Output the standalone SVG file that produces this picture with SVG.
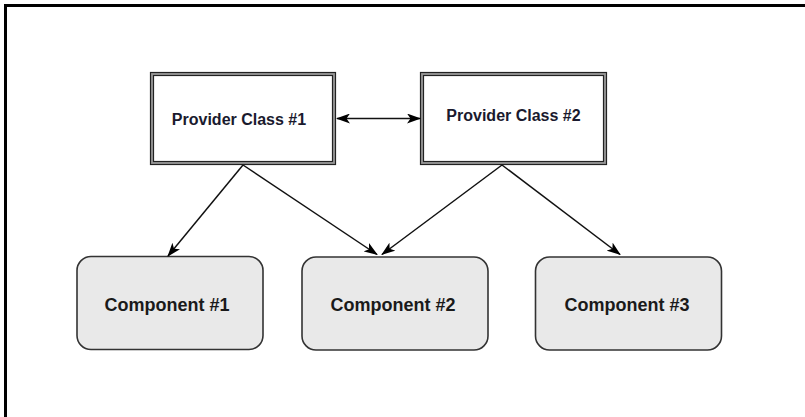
<svg xmlns="http://www.w3.org/2000/svg" width="805" height="417" viewBox="0 0 805 417">
  <style>
    .frame { stroke: #000; stroke-width: 3; fill: none; }
    .outer { fill: #9a9a9a; stroke: #222; stroke-width: 1.2; }
    .inner { fill: #fff; stroke: #222; stroke-width: 1.2; }
    .comp { fill: #e9e9e9; stroke: #333; stroke-width: 1.6; }
    .ptext { font-family: "Liberation Sans", Arial, sans-serif; font-weight: bold; font-size: 16px; fill: #1a1a2e; text-anchor: middle; }
    .ctext { font-family: "Liberation Sans", Arial, sans-serif; font-weight: bold; font-size: 18px; fill: #1a1a1a; text-anchor: middle; }
    .edge { stroke: #111; stroke-width: 1.5; fill: none; }
  </style>
  <defs>
    <marker id="arrow" viewBox="0 0 14 10" refX="13" refY="5" markerWidth="14" markerHeight="10" markerUnits="userSpaceOnUse" orient="auto-start-reverse">
      <path d="M0,0 L14,5 L0,10 L3.5,5 Z" fill="#000"/>
    </marker>
  </defs>
  <rect width="805" height="417" fill="#fff"/>
  <g id="frame">
    <path class="frame" d="M4,5.5 H805 M5.5,4 V417"/>
  </g>
  <g id="provider1">
    <rect class="outer" x="150.5" y="72.5" width="185" height="92"/>
    <rect class="inner" x="153.5" y="75.5" width="179" height="86"/>
    <text class="ptext" x="239" y="125">Provider Class #1</text>
  </g>
  <g id="provider2">
    <rect class="outer" x="420.5" y="72.5" width="186" height="92"/>
    <rect class="inner" x="423.5" y="75.5" width="180" height="86"/>
    <text class="ptext" x="513.5" y="120.5">Provider Class #2</text>
  </g>
  <g id="component1">
    <rect class="comp" x="77" y="256.5" width="186" height="93" rx="14" ry="14"/>
    <text class="ctext" x="167" y="310.5">Component #1</text>
  </g>
  <g id="component2">
    <rect class="comp" x="302" y="257" width="186" height="93" rx="14" ry="14"/>
    <text class="ctext" x="393" y="310.5">Component #2</text>
  </g>
  <g id="component3">
    <rect class="comp" x="535.5" y="257" width="186" height="93" rx="14" ry="14"/>
    <text class="ctext" x="627" y="310.5">Component #3</text>
  </g>
  <g id="connectors">
    <line class="edge" x1="337" y1="118.5" x2="420" y2="118.5" marker-start="url(#arrow)" marker-end="url(#arrow)"/>
    <line class="edge" x1="243" y1="165" x2="168" y2="256" marker-end="url(#arrow)"/>
    <line class="edge" x1="243" y1="165" x2="377" y2="254.5" marker-end="url(#arrow)"/>
    <line class="edge" x1="502" y1="165" x2="382" y2="254.5" marker-end="url(#arrow)"/>
    <line class="edge" x1="502" y1="165" x2="620" y2="254.5" marker-end="url(#arrow)"/>
  </g>
</svg>
